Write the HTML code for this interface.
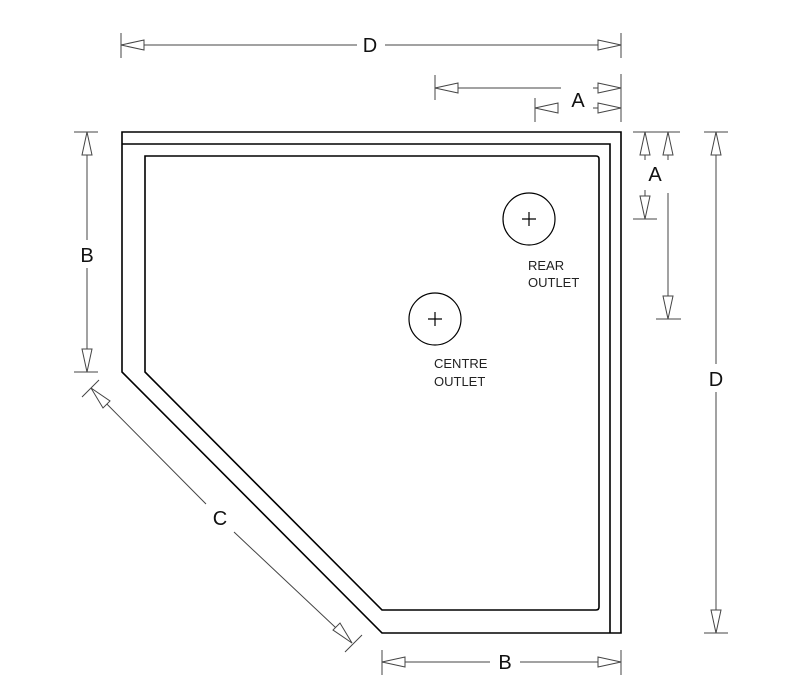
<!DOCTYPE html>
<html><head><style>html,body{margin:0;padding:0;background:#fff}svg{display:block}</style></head>
<body>
<svg width="795" height="700" viewBox="0 0 795 700" xmlns="http://www.w3.org/2000/svg" font-family="Liberation Sans, Arial, sans-serif">
<g fill="none" stroke="#000" stroke-width="1.6">
<polygon points="122,132 621,132 621,633 382,633 122,372"/>
<polyline points="122,144 610,144 610,633"/>
<path d="M145,156 L596,156 Q599,156 599,159 L599,607 Q599,610 596,610 L382,610 L145,372 Z"/>
</g>
<g fill="none" stroke="#000" stroke-width="1.2">
<circle cx="529" cy="219" r="26"/><circle cx="435" cy="319" r="26"/>
<path d="M522,219h14M529,212v14M428,319h14M435,312v14"/>
</g>
<g font-size="13" fill="#222" text-anchor="start">
<text x="528" y="270">REAR</text><text x="528" y="287">OUTLET</text>
<text x="434" y="368">CENTRE</text><text x="434" y="386">OUTLET</text>
</g>
<g stroke="#444" stroke-width="1" fill="#fff">
<path d="M121,33v25M621,33v25M121,45h236M385,45h236" fill="none"/>
<polygon points="121,45 144,40 144,50"/><polygon points="621,45 598,40 598,50"/>
<path d="M435,75v25M621,74v48M435,88h126M593,88h28M535,98v24M535,108h8M593,108h28" fill="none"/>
<polygon points="435,88 458,83 458,93"/><polygon points="621,88 598,83 598,93"/>
<polygon points="535,108 558,103 558,113"/><polygon points="621,108 598,103 598,113"/>
<path d="M633,132h47M645,132v28M668,132v28M645,190v29M633,219h24M668,193v126M656,319h25" fill="none"/>
<polygon points="645,132 640,155 650,155"/><polygon points="668,132 663,155 673,155"/>
<polygon points="645,219 640,196 650,196"/><polygon points="668,319 663,296 673,296"/>
<path d="M704,132h24M704,633h24M716,132v232M716,392v241" fill="none"/>
<polygon points="716,132 711,155 721,155"/><polygon points="716,633 711,610 721,610"/>
<path d="M74,132h24M74,372h24M87,132v108M87,268v104" fill="none"/>
<polygon points="87,132 82,155 92,155"/><polygon points="87,372 82,349 92,349"/>
<path d="M382,650v25M621,650v25M382,662h108M520,662h101" fill="none"/>
<polygon points="382,662 405,657 405,667"/><polygon points="621,662 598,657 598,667"/>
<path d="M82,397L99,380M345,652L362,635M91,388L206,504M234,532L352,643" fill="none"/>
<polygon points="91,388 103,408 110,401"/><polygon points="352,643 340,623 333,630"/>
</g>
<g font-size="20" fill="#111" text-anchor="middle">
<text x="370" y="52">D</text>
<text x="578" y="107">A</text>
<text x="655" y="181">A</text>
<text x="716" y="386">D</text>
<text x="87" y="262">B</text>
<text x="505" y="669">B</text>
<text x="220" y="525">C</text>
</g>
</svg>
</body></html>
